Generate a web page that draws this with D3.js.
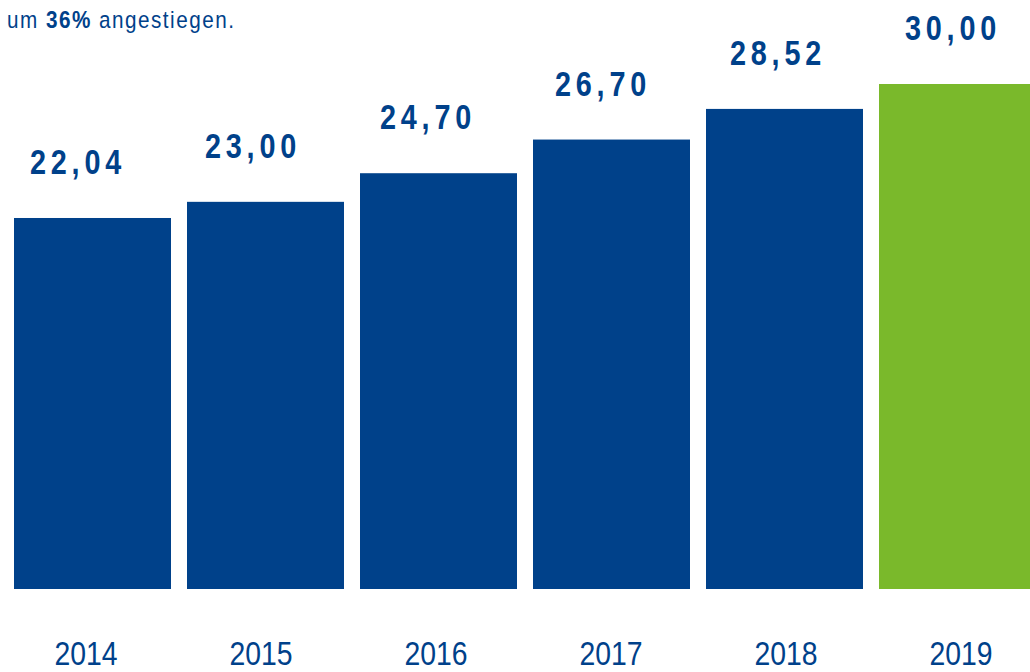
<!DOCTYPE html>
<html>
<head>
<meta charset="utf-8">
<script src="https://cdn.jsdelivr.net/npm/d3@7"></script>
<style>
  html, body { margin: 0; padding: 0; background: #fff; }
  svg { display: block; }
  text { font-family: "Liberation Sans", Arial, sans-serif; }
</style>
</head>
<body>
<svg id="chart" width="1030" height="672"></svg>
<script>
// Werte je Jahr
const years = ["2014", "2015", "2016", "2017", "2018", "2019"];
const values = [22.04, 23.00, 24.70, 26.70, 28.52, 30.00];
const highlightYear = "2019";

const blue = "#00418a";
const green = "#7ab92b";

const svg = d3.select("#chart");
const baseline = 589;

const x = d3.scaleBand()
  .domain(years)
  .range([14, 1036])
  .paddingInner(0.0925)
  .paddingOuter(0);

const y = d3.scaleLinear()
  .domain([0, 30])
  .range([baseline, 84]);

// Label positions for values and years
const xValue = d3.scalePoint().domain(years).range([76, 951]);
const xYear = d3.scalePoint().domain(years).range([86, 961]);

const data = years.map((yr, i) => ({ year: yr, value: values[i] }));
const fmt = v => d3.format(".2f")(v).replace(".", ",");

// condensed look: horizontally squeezed type
const squeeze = (px, py, s) => `translate(${px},${py}) scale(${s},1)`;

svg.append("g")
  .selectAll("rect")
  .data(data)
  .join("rect")
  .attr("x", d => x(d.year))
  .attr("y", d => y(d.value))
  .attr("width", x.bandwidth())
  .attr("height", d => baseline - y(d.value))
  .attr("fill", d => d.year === highlightYear ? green : blue);

svg.append("g")
  .selectAll("text")
  .data(data)
  .join("text")
  .attr("transform", d => squeeze(xValue(d.year) + 2, y(d.value) - 44, 0.8))
  .attr("text-anchor", "middle")
  .attr("fill", blue)
  .attr("font-size", 36)
  .attr("font-weight", "bold")
  .attr("letter-spacing", 6)
  .text(d => fmt(d.value));

svg.append("g")
  .selectAll("text")
  .data(data)
  .join("text")
  .attr("transform", d => squeeze(xYear(d.year), 665, 0.86))
  .attr("text-anchor", "middle")
  .attr("fill", blue)
  .attr("font-size", 33)
  .text(d => d.year);

// Einleitungszeile
const intro = svg.append("text")
  .attr("transform", squeeze(7, 28, 0.88))
  .attr("fill", blue)
  .attr("font-size", 23.5)
  .attr("letter-spacing", 1.7);
intro.append("tspan").text("um ");
intro.append("tspan").attr("font-weight", "bold").text("36%");
intro.append("tspan").text(" angestiegen.");
</script>
</body>
</html>
